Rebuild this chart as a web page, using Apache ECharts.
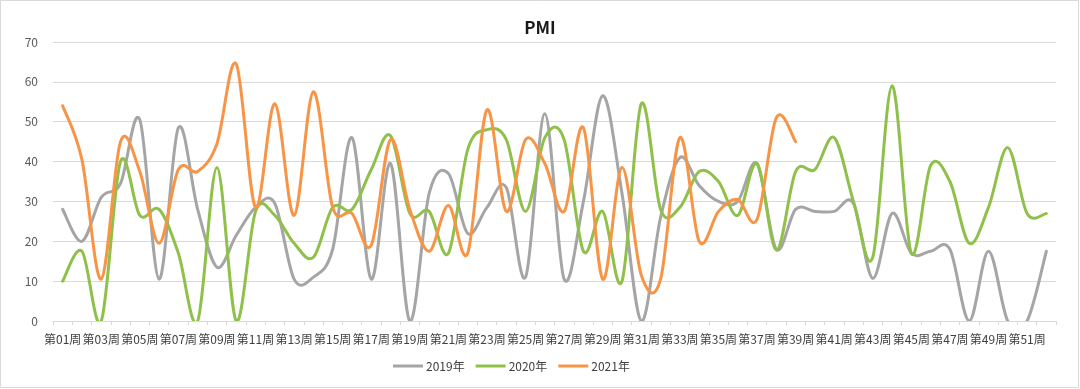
<!DOCTYPE html>
<html>
<head>
<meta charset="utf-8">
<script src="https://cdn.jsdelivr.net/npm/echarts@6/dist/echarts.min.js"></script>
<style>
html,body{margin:0;padding:0;background:#fff;}
#chart{width:1080px;height:389px;}
</style>
</head>
<body>
<div id="chart"></div>
<script>
var categories = [];
for (var i = 1; i <= 52; i++) { categories.push('第' + (i < 10 ? '0' + i : '' + i) + '周'); }

var seriesNames = ['2019年', '2020年', '2021年'];

var data2019 = [28, 20, 31, 34.5, 50.5, 10.5, 48.5, 28, 13.5, 21.5, 28.5, 29.5, 10.5, 11, 18, 46, 10.5, 39.5, 0, 32,
  37, 22, 28.5, 33.5, 11, 52, 10.5, 30, 56.5, 32, 0, 26, 41, 34, 30, 30, 39.5, 18, 28, 27.5,
  27.5, 29.5, 10.7, 27, 17, 17.5, 18, 0, 17.5, 0, 0, 17.5];

var data2020 = [10, 17.5, 0, 40, 26.5, 28, 17, 0, 38.5, 0, 27.5, 26.5, 19.5, 16, 28.5, 28, 38, 46.5, 27, 27.5,
  17, 43, 48, 45.5, 27.5, 46, 45.5, 17.5, 27.5, 10, 54.5, 28, 28.5, 37.5, 35, 26.5, 39.5, 17.8, 37.5, 38,
  46, 30, 16, 59, 17, 39, 35, 19.5, 28.5, 43.5, 27, 27];

var data2021 = [54, 40.5, 10.5, 45, 37.5, 19.5, 38, 37.5, 44.5, 64.5, 28.5, 54.5, 26.5, 57.5, 28.5, 27, 19, 45.5, 28, 17.5,
  29, 17, 53, 27.5, 45.5, 39.5, 27.5, 48.5, 10.5, 38.5, 11.5, 10.5, 46, 20, 27.5, 30.5, 25.5, 51, 45];

var yTicks = [0, 10, 20, 30, 40, 50, 60, 70];

var colors = ['#A5A5A5', '#8FC04A', '#F89446'];
var FONT = '"Noto Sans CJK SC", "Noto Sans", sans-serif';

var chart = echarts.init(document.getElementById('chart'), null, {renderer: 'canvas'});

// Smooth line drawn like a spreadsheet's smoothed line (Catmull-Rom Bezier),
// with every point placed through the cartesian axes via api.coord.
function mkSeries(name, values, color) {
  var items = values.map(function (v, i) { return [i, v]; });
  return {
    name: name,
    type: 'custom',
    coordinateSystem: 'cartesian2d',
    clip: true,
    silent: true,
    data: items,
    encode: {x: 0, y: 1},
    itemStyle: {color: color},
    renderItem: function (params, api) {
      if (params.dataIndex !== 0) { return null; }
      var pts = [];
      for (var k = 0; k < values.length; k++) {
        if (values[k] != null) { pts.push(api.coord([k, values[k]])); }
      }
      var d = 'M' + pts[0][0] + ',' + pts[0][1];
      for (var j = 0; j < pts.length - 1; j++) {
        var p0 = pts[j - 1] || pts[j];
        var p1 = pts[j];
        var p2 = pts[j + 1];
        var p3 = pts[j + 2] || pts[j + 1];
        var c1x = p1[0] + (p2[0] - p0[0]) / 6, c1y = p1[1] + (p2[1] - p0[1]) / 6;
        var c2x = p2[0] - (p3[0] - p1[0]) / 6, c2y = p2[1] - (p3[1] - p1[1]) / 6;
        d += ' C' + c1x + ',' + c1y + ' ' + c2x + ',' + c2y + ' ' + p2[0] + ',' + p2[1];
      }
      return {
        type: 'path',
        shape: {pathData: d},
        style: {fill: null, stroke: color, lineWidth: 3, lineCap: 'round', lineJoin: 'round'}
      };
    }
  };
}

chart.setOption({
  animation: false,
  backgroundColor: '#ffffff',
  textStyle: {fontFamily: FONT},
  graphic: [{
    type: 'rect',
    shape: {x: 0.5, y: 0.5, width: 1078, height: 387},
    style: {fill: 'none', stroke: '#D9D9D9', lineWidth: 1},
    silent: true
  }],
  title: {
    text: 'PMI',
    left: 'center',
    top: 14,
    textStyle: {fontFamily: FONT, fontSize: 17, fontWeight: 'bold', color: '#1a1a1a'}
  },
  legend: {
    data: seriesNames.map(function (n, i) { return {name: n, itemStyle: {color: colors[i]}}; }),
    left: 388,
    top: 355,
    icon: 'rect',
    itemWidth: 30,
    itemHeight: 3,
    itemGap: 11,
    textStyle: {fontFamily: FONT, fontSize: 12, color: '#404040', padding: [0, 0, 0, -2]}
  },
  grid: {left: 53, right: 24, top: 42, bottom: 68, containLabel: false},
  xAxis: {
    type: 'category',
    data: categories,
    boundaryGap: true,
    axisLine: {show: true, lineStyle: {color: '#D9D9D9', width: 1}},
    axisTick: {show: true, interval: 0, length: 4, lineStyle: {color: '#D9D9D9'}},
    axisLabel: {interval: 1, margin: 12, fontFamily: FONT, fontSize: 12, color: '#404040', hideOverlap: false}
  },
  yAxis: {
    type: 'value',
    min: yTicks[0],
    max: yTicks[yTicks.length - 1],
    interval: 10,
    axisLine: {show: false},
    axisTick: {show: false},
    splitLine: {lineStyle: {color: '#D9D9D9', width: 1}},
    axisLabel: {margin: 15, fontFamily: FONT, fontSize: 12, color: '#595959'}
  },
  series: [
    mkSeries(seriesNames[0], data2019, colors[0]),
    mkSeries(seriesNames[1], data2020, colors[1]),
    mkSeries(seriesNames[2], data2021, colors[2])
  ]
});
</script>
</body>
</html>
